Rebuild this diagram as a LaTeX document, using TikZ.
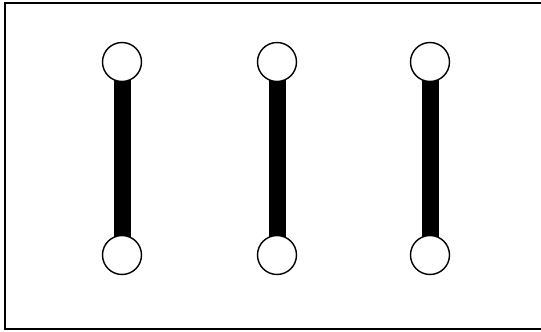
\documentclass[tikz,border=0pt]{standalone}
\usetikzlibrary{backgrounds}

\begin{document}
\begin{tikzpicture}[x=0.5pt,y=-0.5pt,
  ball/.style={circle,draw,line width=0.7pt,fill=white,minimum size=19.5pt,inner sep=0pt},
  rod/.style={line width=8.5pt}]
\useasboundingbox (0,0) rectangle (541,332);
% open frame
\draw[line width=0.9pt] (541,3) -- (5,3) -- (5,329) -- (541,329);
\foreach \n/\x in {a/122,b/277,c/430}{
  \node[ball] (top\n) at (\x,62) {};
  \node[ball] (bot\n) at (\x,255) {};
  \begin{pgfonlayer}{background}
    \draw[rod] (top\n.center) -- (bot\n.center);
  \end{pgfonlayer}
}
\end{tikzpicture}
\end{document}
